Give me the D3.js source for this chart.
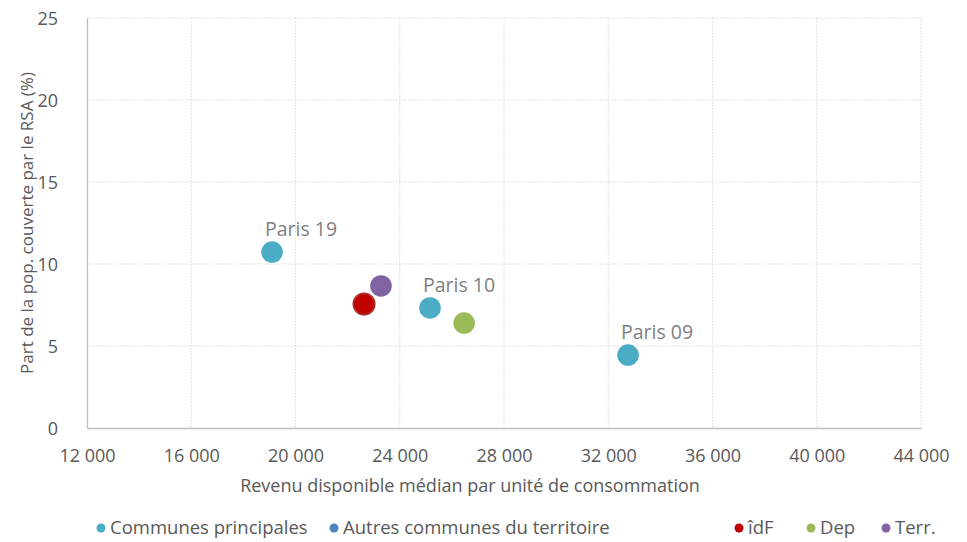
<!DOCTYPE html>
<html><head><meta charset="utf-8">
<script src="https://cdn.jsdelivr.net/npm/d3@7"></script>
<style>body{margin:0;background:#fff}svg{display:block}text{font-family:"Open Sans",sans-serif}</style>
</head><body>
<svg id="c" width="967" height="542"></svg>
<script>
const seriesNames = ["Communes principales","Autres communes du territoire","îdF","Dep","Terr."];
const seriesColors = ["#4BACC6","#4F81BD","#C00000","#9BBB59","#8064A2"];
const pointSeries = ["Communes principales","Communes principales","Communes principales","îdF","Dep","Terr."];
const pointLabels = ["Paris 19","Paris 10","Paris 09","","",""];
const revenu = [19100,25160,32760,22630,26470,23280];
const rsa = [10.73,7.32,4.45,7.56,6.40,8.66];
const xTicks = [12000,16000,20000,24000,28000,32000,36000,40000,44000];
const yTicks = [0,5,10,15,20,25];

const svg = d3.select("#c");
const L=87,R=921,T=18,B=428;
const x = d3.scaleLinear().domain([12000,44000]).range([L,R]);
const y = d3.scaleLinear().domain([0,25]).range([B,T]);
const fmt = v => d3.format(",")(v).replace(/,/g," ");

// gridlines
svg.append("g").selectAll("line").data(yTicks.filter(d=>d>0)).join("line")
  .attr("x1",L).attr("x2",R).attr("y1",d=>y(d)).attr("y2",d=>y(d))
  .attr("stroke","#d9d9d9").attr("stroke-dasharray","1.5,1.5");
svg.append("g").selectAll("line").data(xTicks.filter(d=>d>12000)).join("line")
  .attr("y1",T).attr("y2",B).attr("x1",d=>x(d)).attr("x2",d=>x(d))
  .attr("stroke","#d9d9d9").attr("stroke-dasharray","1.5,1.5");

// axes
const xa = svg.append("g").attr("transform",`translate(0,${B})`)
  .call(d3.axisBottom(x).tickValues(xTicks).tickFormat(fmt).tickSize(0).tickPadding(21));
const ya = svg.append("g").attr("transform",`translate(${L},0)`)
  .call(d3.axisLeft(y).tickValues(yTicks).tickSize(0).tickPadding(29));
[xa,ya].forEach(a=>{
  a.select(".domain").attr("stroke","#bfbfbf").attr("stroke-width",1.3);
  a.selectAll("text").attr("fill","#595959").style("font-size","18px").style("font-family","Open Sans");
});
ya.selectAll("text").attr("dy","0.35em");

// axis titles
svg.append("text").attr("x",470).attr("y",492).attr("text-anchor","middle")
  .attr("fill","#595959").style("font-size","18px").text("Revenu disponible médian par unité de consommation");
svg.append("text").attr("transform","translate(33,223) rotate(-90)").attr("text-anchor","middle")
  .attr("fill","#595959").style("font-size","17px").text("Part de la pop. couverte par le RSA (%)");

// points
const pts = revenu.map((v,i)=>({x:v,y:rsa[i],s:pointSeries[i],label:pointLabels[i]}));
const col = s => seriesColors[seriesNames.indexOf(s)];
svg.append("g").selectAll("circle").data(pts).join("circle")
  .attr("cx",d=>x(d.x)).attr("cy",d=>y(d.y)).attr("r",10.8)
  .attr("fill",d=>col(d.s))
  .attr("stroke",d=>d.s==="îdF"?"#b03030":"none").attr("stroke-width",1.5);
svg.append("g").selectAll("text").data(pts.filter(d=>d.label)).join("text")
  .attr("x",d=>x(d.x)-7).attr("y",d=>y(d.y)-16)
  .attr("fill","#7f7f7f").style("font-size","19.5px").text(d=>d.label);

// legend
const legX = [101,334,739,811,886];
const lg = svg.append("g").selectAll("g").data(seriesNames).join("g")
  .attr("transform",(d,i)=>`translate(${legX[i]},528)`);
lg.append("circle").attr("r",4.5).attr("fill",(d,i)=>seriesColors[i]);
lg.append("text").attr("x",9).attr("dy","0.35em").attr("fill","#595959")
  .style("font-size","18.5px").text(d=>d);
</script>
</body></html>
